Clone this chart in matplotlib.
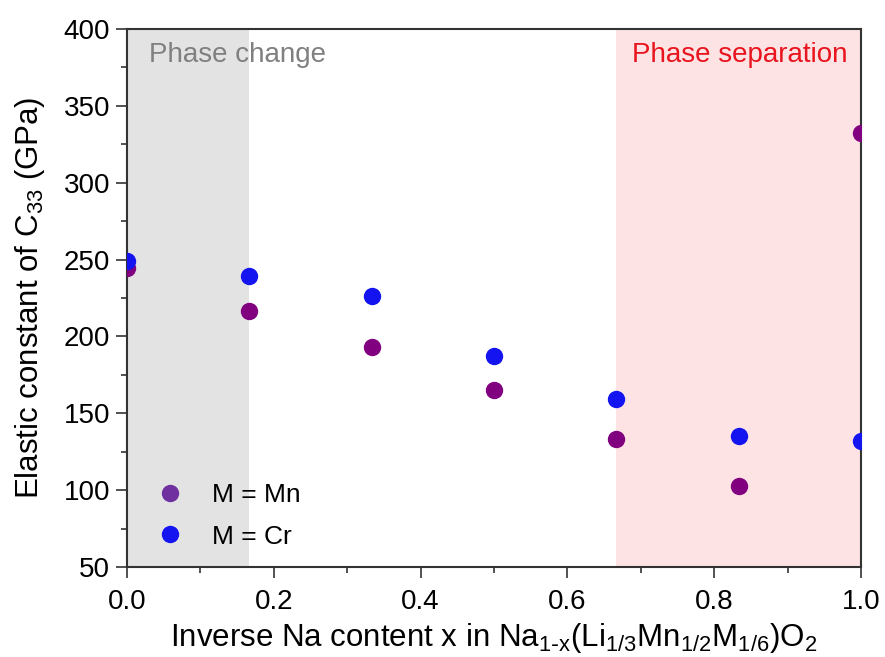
import matplotlib.pyplot as plt
from matplotlib.lines import Line2D
from matplotlib.ticker import MultipleLocator
import numpy as np

plt.rcParams['font.family'] = ['Liberation Sans', 'DejaVu Sans']

x_content = [0, 1/6, 1/3, 1/2, 2/3, 5/6, 1]
c33_mn = [244.5, 216.5, 193, 165, 133, 103, 332.5]
c33_cr = [249, 239, 226.5, 187, 159.5, 135, 132]

fig = plt.figure(figsize=(8.85, 6.57), dpi=100)
ax = fig.add_axes([127/885, 1 - 567/657, (861-127)/885, (567-29)/657])

ax.axvspan(0, 1/6, color='#e3e3e3', zorder=0, lw=0)
ax.axvspan(2/3, 1, color='#fde3e3', zorder=0, lw=0)

ax.plot(x_content, c33_mn, 'o', color='#800080', ms=11.5, ls='none', zorder=3)
ax.plot(x_content, c33_cr, 'o', color='#1414f0', ms=11.5, ls='none', zorder=3)

ax.set_xlim(0, 1)
ax.set_ylim(50, 400)
ax.xaxis.set_major_locator(MultipleLocator(0.2))
ax.xaxis.set_minor_locator(MultipleLocator(0.1))
ax.yaxis.set_major_locator(MultipleLocator(50))
ax.yaxis.set_minor_locator(MultipleLocator(25))
ax.tick_params(which='both', direction='out', labelsize=20, color='#333333', width=1.2)
ax.tick_params(which='major', length=8, pad=4)
ax.tick_params(axis='x', which='major', pad=8)
ax.tick_params(which='minor', length=4)
ax.xaxis.set_major_formatter(plt.FormatStrFormatter('%.1f'))
for s in ax.spines.values():
    s.set_linewidth(1.5)
    s.set_color('#333333')

ax.set_xlabel(r'Inverse Na content x in Na$_{\mathregular{1\text{-}x}}$(Li$_{\mathregular{1/3}}$Mn$_{\mathregular{1/2}}$M$_{\mathregular{1/6}}$)O$_{\mathregular{2}}$',
              fontsize=22.5, labelpad=4)
ax.set_ylabel(r'Elastic constant of C$_{\mathregular{33}}$ (GPa)', fontsize=22.5, labelpad=12)

ax.text(0.03, 0.975, 'Phase change', transform=ax.transAxes, fontsize=20,
        color='#808080', va='top', ha='left')
ax.text(0.982, 0.975, 'Phase separation', transform=ax.transAxes, fontsize=20,
        color='#e8141e', va='top', ha='right')

handles = [Line2D([], [], marker='o', ls='none', color='#7030a0', ms=11.5),
           Line2D([], [], marker='o', ls='none', color='#1414f0', ms=11.5)]
ax.legend(handles, ['M = Mn', 'M = Cr'], loc='lower left', bbox_to_anchor=(-0.01, -0.01),
          frameon=False, fontsize=19, handletextpad=0.6, labelspacing=0.65)

fig.savefig('out.png', dpi=100)
